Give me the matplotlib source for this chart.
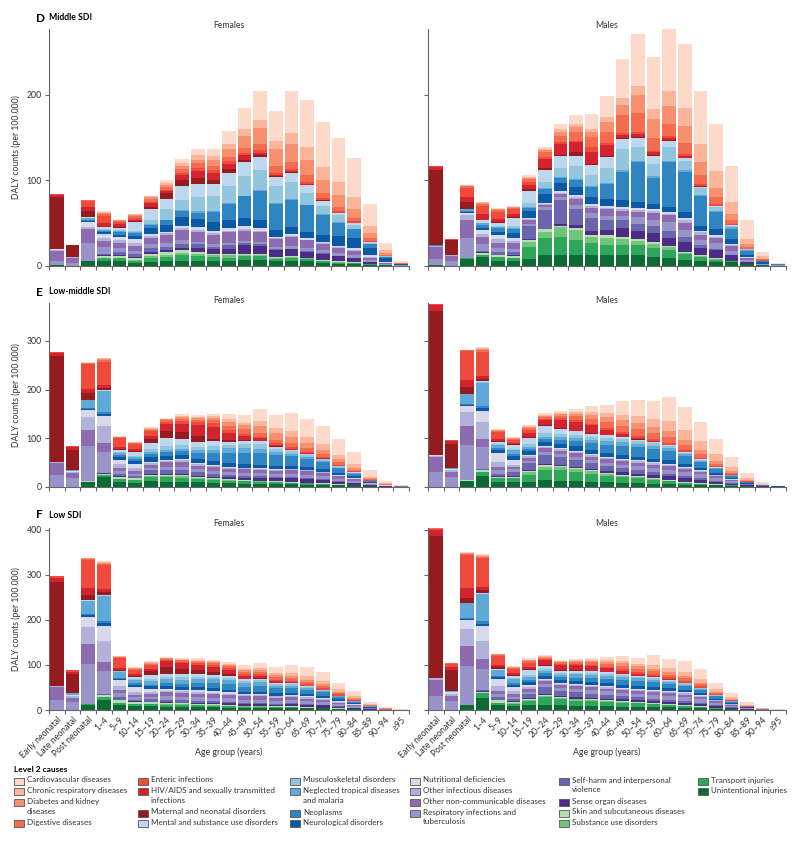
import numpy as np
import matplotlib.pyplot as plt
from matplotlib.patches import Rectangle

plt.rcParams['font.family'] = ['Lato', 'DejaVu Sans']

ages = ["Early neonatal", "Late neonatal", "Post neonatal", "1–4", "5–9", "10–14", "15–19",
        "20–24", "25–29", "30–34", "35–39", "40–44", "45–49", "50–54", "55–59", "60–64",
        "65–69", "70–74", "75–79", "80–84", "85–89", "90–94", "≥95"]

causes = ["Cardiovascular diseases", "Chronic respiratory diseases", "Diabetes and kidney\ndiseases",
          "Digestive diseases", "Enteric infections", "HIV/AIDS and sexually transmitted\ninfections",
          "Maternal and neonatal disorders", "Mental and substance use disorders",
          "Musculoskeletal disorders", "Neglected tropical diseases\nand malaria", "Neoplasms",
          "Neurological disorders", "Nutritional deficiencies", "Other infectious diseases",
          "Other non-communicable diseases", "Respiratory infections and\ntuberculosis",
          "Self-harm and interpersonal\nviolence", "Sense organ diseases",
          "Skin and subcutaneous diseases", "Substance use disorders", "Transport injuries",
          "Unintentional injuries"]

colors = ["#fdd9c9", "#fbb59b", "#f7906f", "#f36c50", "#ef4a3c", "#d3232e", "#951b1e",
          "#bdd7ee", "#92c5de", "#5fa8d8", "#2f85c2", "#0b59a6",
          "#d9d9ec", "#b1b1d9", "#8e6bb1", "#9894c9", "#6a66ae", "#4d2b89",
          "#b5e0b0", "#72c47a", "#2fa75a", "#0b6b32"]

# one row per age group, values in the order of `causes`
mid_f = [
    [0, 0, 0, 0, 1, 3, 60, 0, 0, .2, .5, .3, .5, 1, 12, 5, 0, 0, 0, 0, 0, .5],
    [0, 0, 0, 0, .5, 0, 14, 0, 0, 0, 0, 0, 0, 1, 6, 3, 0, 0, 0, 0, 0, 0],
    [0, 0, 0, 1, 7, 4, 8, .5, 0, 3, 1, 1, 6, 2, 17, 20, 0, 0, 0, 0, 0, 6],
    [1, 1, 1, 3, 8, 5, 0, 2, 1, 1, 2, 2, 4, 4, 7, 8, 2, 1, 2, 0, 3, 6],
    [.5, .5, .5, 1, 3, 3, 1, 3, 1, 1, 3, 3, 4, 3, 6, 5, 3, 1, 2, .5, 4, 5],
    [1, 1, 1, 2, 2, 2, 1, 10, 2, 1, 3, 4, 5, 3, 6, 3, 4, 1, 2, 1, 3, 3],
    [1, 1, 2, 3, 2, 4, 3, 12, 5, 1, 4, 7, 2, 2, 8, 4, 5, 2, 3, 2, 5, 4],
    [3, 2, 3, 3, 2, 2, 7, 12, 12, 1, 5, 8, 2, 2, 10, 4, 4, 2, 3, 3, 5, 5],
    [5, 3, 4, 4, 3, 6, 7, 16, 12, 1, 7, 10, 3, 2, 12, 5, 4, 3, 3, 3, 6, 6],
    [6, 6, 4, 6, 3, 8, 7, 16, 16, 2, 7, 10, 3, 2, 12, 3, 4, 5, 2, 3, 5, 6],
    [9, 4, 7, 5, 3, 9, 4, 15, 17, 1, 12, 10, 3, 2, 11, 3, 3, 5, 2, 2, 4, 6],
    [16, 5, 10, 5, 3, 6, 4, 16, 20, 1, 18, 10, 3, 2, 12, 3, 4, 6, 2, 3, 4, 5],
    [24, 8, 14, 6, 3, 5, 3, 16, 23, 1, 25, 10, 3, 2, 12, 3, 2, 10, 1, 2, 4, 7],
    [34, 10, 18, 8, 3, 3, 2, 15, 23, 1, 34, 10, 3, 2, 11, 3, 2, 9, 1, 2, 4, 7],
    [35, 10, 19, 9, 2, 1, 1, 11, 20, 1, 30, 8, 2, 1, 9, 3, 1, 8, 1, 1, 3, 5],
    [49, 13, 21, 8, 2, 1, 2, 10, 20, 1, 32, 8, 2, 1, 11, 3, 1, 8, 1, 1, 3, 6],
    [55, 15, 18, 8, 2, 1, .5, 9, 14, 1, 31, 7, 2, 1, 9, 3, 1, 7, 1, .5, 3, 5],
    [52, 16, 15, 6, 2, .5, .5, 6, 10, 1, 23, 8, 2, 1, 7, 3, 1, 7, 1, .5, 2, 3.5],
    [52, 15, 14, 5, 2, 0, 0, 3, 8, .5, 16, 11, 2, 1, 6, 3, .5, 6, 1, .3, 1.2, 2.5],
    [46, 14, 10, 4, 2, 0, 0, 2, 5, .5, 10, 12, 2, 1, 5, 3, .5, 5, .8, .2, 1, 2],
    [26, 8, 6, 3, 1, 0, 0, 1, 2, 0, 4, 9, 1.5, 1, 3, 2, 0, 2.5, .5, 0, .5, 1],
    [9, 3, 2, 1.5, .5, 0, 0, 0, .5, 0, 1.5, 5, .5, .5, 1, 1, 0, .5, 0, 0, 0, .5],
    [1.5, .5, .3, .2, 0, 0, 0, 0, 0, 0, .3, 1.5, 0, 0, .3, .2, 0, 0, 0, 0, 0, .2],
]
mid_m = [
    [0, 0, 0, 0, 1, 3, 88, 0, 0, .3, .5, .3, .5, 1, 14, 7, 0, 0, 0, 0, 0, .5],
    [0, 0, 0, .3, .5, .5, 18, 0, 0, 0, 0, 0, 0, 1, 6, 5, 0, 0, 0, 0, 0, 0],
    [.5, .5, .5, 2, 11, 5, 9, 0, 0, 2, 1, 1, 3, 6, 21, 23, 0, 0, 0, 0, 1, 8],
    [1, 1, 1, 2, 10, 6, 1, 2.5, 1, 2, 3, 3, 4, 4, 8, 8, 2, 1, 1.5, 0, 3, 10],
    [.5, .5, 1, 2, 8, 4, 1, 3, 2, 1, 4, 4, 5, 4, 6, 5, 3, 1, 1.5, .5, 4, 6],
    [.5, .5, .5, 2, 5, 4, 1, 10, 2, 1, 5, 6, 3, 3, 6, 4, 4, 1, 1.5, .5, 4, 5],
    [2, 1, 2, 3, 3, 5, 3, 14, 4, 1, 4, 8, 1, 2, 4, 3, 15, 1, 2, 6, 14, 8],
    [2, 1.5, 3, 5, 3, 10, 2, 14, 8, 1, 6, 10, 1, 1, 3, 3, 22, 1, 3, 7, 20, 12.5],
    [6, 3, 5, 7, 2, 13, 2, 14, 10, 1, 6, 10, 1.5, 1.5, 4, 3, 28, 2, 2, 11, 21.5, 12.5],
    [10, 3.5, 6, 10, 2, 12, 4, 12, 15, 1, 8, 10, 2, 2, 8, 4, 19, 3, 3, 11.5, 17.5, 12.5],
    [16.5, 4, 6, 12, 5, 14, 1.5, 12, 13, 1, 12, 8, 2, 2, 6, 6, 15.5, 4.5, 2, 8, 13.5, 12.5],
    [25, 6, 11.5, 13, 2, 13, 1, 13.5, 17.5, 1, 17.5, 8, 2, 2, 8, 4, 12.5, 6, 3, 8, 12, 12.5],
    [45, 8, 12, 21, 2, 4, 1, 12, 25, 2, 33, 8, 2.5, 2, 6, 4, 10, 10, 3, 6.5, 12, 12.5],
    [61, 10, 21, 23, 2, 3.5, .5, 11.5, 15.5, 2, 46, 8, 2, 2, 6, 8, 8.5, 9, 3, 4.5, 11.5, 12.5],
    [61, 11.5, 21.5, 15.5, 2, 3.5, .5, 10, 13.5, 2, 31, 6, 2, 2, 8, 8, 8, 10, 2.5, 5, 10, 10.5],
    [76, 17, 21.5, 13.5, 2, 3, .5, 8, 15.5, 2, 52, 6, 2, 2, 8, 10, 8, 10, 1.5, 3, 10, 8.5],
    [75, 21.5, 19.5, 13.5, 2, 2, .3, 4, 10, 2, 47, 7, 2, 4, 8, 8, 6, 11.5, 1.5, 1, 7.5, 6.5],
    [62, 21.5, 15.5, 10, 2, 1, .2, 2, 8, 1, 35, 6, 1.5, 2.5, 6, 6, 4, 8, 1.3, .7, 4.5, 6],
    [55, 19.5, 11.5, 8, 2, .5, 0, 1, 4, 1.5, 19.5, 8, 1.5, 2, 6, 6, 2, 9.5, 1, .3, 2.5, 4.7],
    [42, 13.5, 7.5, 4, 1.5, .2, 0, .5, 2, 2, 11.5, 6, 1, 1.5, 6, 4, 1, 6, .8, .2, 1, 4],
    [22, 6, 3, 2, 1, 0, 0, 0, 1, 1, 4, 3, .5, 1, 2, 2, .5, 1.5, .2, 0, .3, 2],
    [5, 3, 1, 1, .5, 0, 0, 0, .3, .5, 1, 1.5, 0, .3, .5, .7, 0, .5, 0, 0, 0, .5],
    [1, .5, .3, .2, 0, 0, 0, 0, 0, 0, .3, .4, 0, 0, .3, .3, 0, 0, 0, 0, 0, .2],
]
lm_f = [
    [0, 0, 0, 0, 2, 8, 218, 0, 0, 0, 0, 0, 0, 2, 24, 24, 0, 0, 0, 0, 0, 0],
    [0, 0, 0, 1, 2, 5, 43, 0, 0, 1, 0, 0, 2, 3, 9, 18.5, 0, 0, 0, 0, 0, 0],
    [.5, .5, 0, 2, 51, 10, 14, 0, 0, 17, 1.5, 1.5, 14, 27, 34, 72, 0, 0, .5, 0, .5, 10],
    [1.5, 1.5, 2, 4, 48, 5, 4, 2, 1, 43, 3, 4, 22.5, 34, 18.5, 43, 1, .5, 3, 0, 5, 19],
    [1, .5, 1, 2, 17, 5, 1, 5, 2, 4, 5, 5, 9, 8, 6, 6, 5, 1, 4, .5, 6, 10],
    [1.5, 1, 1.5, 2, 10, 4, 1, 8, 3, 4, 4, 6, 9, 5, 6, 4, 5, 1, 3, .5, 5.5, 8],
    [2, 1.5, 2, 3, 10, 6, 9, 12, 6, 5, 6, 9, 3.5, 3, 6, 5, 8, 2, 2, 1.5, 9, 11.5],
    [1.5, 1, 1.5, 3, 6, 14, 14, 16, 8, 5, 7, 9, 2, 3, 9, 6, 9, 2, 3, 2, 9, 10],
    [4, 2, 3, 5, 6, 17, 13.5, 12.5, 8, 5, 8, 8, 2, 4, 10, 7, 8, 2, 3, 3, 8, 10],
    [4, 2, 3, 5, 7, 22, 11.5, 10, 7, 7, 12, 8, 2, 3, 8, 6, 7, 2, 2, 2.5, 7, 9],
    [4.5, 3, 4, 6, 8, 25, 5, 9, 8, 8, 15, 8, 2, 3, 8, 6, 6, 3, 1.5, 2, 6, 8],
    [11, 6, 8, 9, 6, 14, 3.5, 7, 7, 10, 20, 8, 1.5, 2.5, 7, 6, 5, 4, 1.5, 1.5, 5, 7],
    [15, 6, 8, 10, 4, 8, 2, 6, 8, 10, 24, 7, 1.5, 2, 7, 6, 4, 5, 1.5, 1, 4.5, 6.5],
    [25, 11, 14, 8, 3, 5, 1, 6, 10, 8, 25, 6, 1.5, 2, 7, 6, 3.5, 6, 1.5, 1, 4, 6],
    [26, 11, 13, 8, 3, 3, .5, 4, 8, 6, 22, 6, 1.5, 2, 7, 6, 3, 6, 1.5, .5, 3.5, 5.5],
    [37, 12, 13, 8, 3, 2, .3, 3, 6, 4, 20, 6, 1.5, 2, 7, 7, 2.5, 7, 1.5, .5, 3, 5],
    [38, 12, 11, 7, 3, 1, 0, 2, 5, 3, 17, 6, 1.5, 2, 7, 7, 2, 7, 1.2, .3, 2.5, 4.5],
    [36, 12, 9, 6, 3, .5, 0, 1.5, 4, 2, 13, 6, 1.5, 2, 6, 6, 1.5, 7, 1, .2, 2, 4],
    [32, 9, 7, 4.5, 2.5, 0, 0, 1, 2.5, 1.5, 9, 5, 1, 1.5, 5, 5, 1, 5, .8, 0, 1.5, 3],
    [25, 7, 5, 3, 2, 0, 0, .5, 1.5, 1, 5, 4, 1, 1, 3.5, 4, .5, 3.5, .5, 0, 1, 2.5],
    [13.5, 3.5, 2, 1.5, 1, 0, 0, 0, .5, .5, 2, 2, .5, .5, 1.5, 2, 0, 1.5, .2, 0, .3, 1],
    [5, 1.5, .8, .5, .5, 0, 0, 0, 0, .2, .5, .8, .2, .2, .5, .8, 0, .5, 0, 0, 0, .3],
    [1.2, .4, .2, .2, .2, 0, 0, 0, 0, 0, .1, .2, 0, 0, .1, .3, 0, 0, 0, 0, 0, .1],
]
lm_m = [
    [0, 0, 0, 0, 2, 12, 297, 0, 0, .5, 0, 0, .5, 3, 30, 31, 0, 0, 0, 0, 0, 0],
    [0, 0, 0, .5, 2, 6, 49.5, 0, 0, 1, 0, .5, 2, 4, 10, 20.5, 0, 0, 0, 0, 0, 0],
    [.5, .5, .5, 2, 59, 15, 13.5, 0, 0, 20.5, 1.5, 2, 13.5, 29.5, 39, 72, 0, 0, .5, 0, .5, 12],
    [2, 2, 2, 4, 50, 5, 6, 1.5, 1, 48, 4.5, 5.5, 22.5, 35.5, 17, 45, 1.5, .5, 3.5, 0, 8, 22.5],
    [1, .5, 1, 2, 16, 4, 1, 5, 2, 6, 5, 6, 18, 10, 7, 7, 5, 1, 3, .5, 7, 10],
    [1, 1, 1, 2, 7, 3, 1, 8, 3, 7, 5, 8, 9.5, 4, 6, 5, 9, 1, 3, .5, 8, 9],
    [2.5, 1.5, 2, 3, 7, 8, 3, 12, 5, 4, 5, 8, 3, 3, 6, 5, 14, 1.5, 3, 6, 14, 10],
    [3.5, 2, 2.5, 4, 3, 10, 3, 14, 8, 4, 6, 8, 2, 3, 7, 6, 20, 2, 3, 7, 20.5, 13.5],
    [4, 2, 3, 5, 4, 17, 2, 9, 7, 6, 8, 9, 2, 3, 7, 6, 16, 2, 2.5, 7, 21, 12.5],
    [7, 4, 5, 8, 4, 17, 1.5, 7, 6, 7, 11, 9, 2, 3, 7, 7, 14, 2.5, 2.5, 6.5, 18, 11.5],
    [14, 6, 7, 10, 4, 16, 1, 6, 6, 8, 13, 9, 2, 3, 7, 7, 11, 3, 2, 6, 16, 10],
    [17, 8, 10, 12, 4, 10, 1, 5, 6, 9, 16, 9, 2, 3, 7, 7, 9, 4, 2, 4, 14, 9],
    [28, 11, 12, 13, 4, 6, .5, 4, 6, 8, 19, 8, 2, 3, 7, 7, 8, 5, 2, 3, 12, 8],
    [34, 14, 13, 13, 4, 3.5, .3, 3, 6, 7, 20, 7, 2, 3, 7, 8, 7, 6, 2, 2, 10, 7],
    [37, 16, 13, 13, 4, 2, .2, 2.5, 5, 6, 21, 7, 2, 3, 7, 8, 6, 7, 2, 1, 8, 6],
    [50, 19, 13, 12, 4, 1.5, 0, 2, 4, 5, 20, 7, 2, 3, 7, 9, 5, 8, 1.5, .5, 6, 5],
    [47, 20, 11, 10, 4, 1, 0, 1.5, 3, 3, 16, 6, 2, 3, 6, 9, 4, 8, 1.2, .3, 4, 4],
    [40, 18, 9, 7, 3, .5, 0, 1, 2, 2, 12, 5, 1.5, 2.5, 5, 8, 3, 7, 1, 0, 3, 3.5],
    [31, 14, 6, 4.5, 2.5, 0, 0, .5, 1, 1.5, 8, 4, 1, 2, 4, 6, 1.5, 5, .7, 0, 1.5, 3],
    [20, 9, 3.5, 2.5, 1.5, 0, 0, .3, .5, 1, 4.5, 3, .8, 1, 2.5, 4, .8, 3, .4, 0, .8, 2],
    [11, 4, 1.5, 1.2, .8, 0, 0, 0, .2, .5, 2, 1.5, .3, .5, 1, 2, 0, 1.2, 0, 0, .3, 1],
    [3.5, 1.3, .5, .4, .3, 0, 0, 0, 0, .2, .5, .5, 0, .2, .3, .7, 0, .3, 0, 0, 0, .3],
    [.8, .3, .1, .1, 0, 0, 0, 0, 0, 0, .1, .2, 0, 0, 0, .3, 0, 0, 0, 0, 0, .1],
]
low_f = [
    [0, 0, 0, 1, 3, 10, 230, 0, 0, 0, 0, 0, .5, 3, 27, 23, 0, 0, 0, 0, 0, 0],
    [0, 0, 0, 1, 3, 5, 43, 0, 0, 3.5, 0, 0, 2.5, 5, 7.5, 18.5, 0, 0, 0, 0, 0, 0],
    [1, 1, 1, 2, 62, 17, 11, .5, 0, 31, 2, 2.5, 23.5, 38.5, 43, 89, 0, 0, 1, 0, .5, 12],
    [2.5, 2.5, 2, 3, 52, 6, 8.5, 1.5, 1, 55, 4.5, 5, 35, 45, 22, 49.5, 2, 1, 3.5, 0, 7.5, 22],
    [.5, .5, 1, 2, 23, 3, 2, 2, 1.5, 12, 2.5, 3, 13, 8, 8.5, 9, 5, 1.5, 6, .5, 5, 10],
    [2, 1, 1.5, 2, 10, 3, 2, 5, 2, 8, 3, 4, 12, 6, 6, 5, 4, 1, 4, .5, 4.5, 9],
    [2.5, 2, 2, 3, 8, 6, 8, 9, 4, 8, 4, 6, 6, 5, 6, 6, 5, 1.5, 3, 1, 5, 8],
    [1.5, 1, 1.5, 2, 4, 12, 15, 8, 5, 9, 6, 7, 3, 4, 8, 8, 6, 2, 2, 1, 5, 7],
    [2, 1.5, 2, 2.5, 4, 12, 12, 7, 5, 9, 7, 7, 3, 4, 8, 8, 5, 2, 2, 1, 4.5, 7],
    [3, 2, 2, 3, 4, 12, 9, 6, 5, 9, 9, 7, 3, 4, 8, 8, 4.5, 2.5, 2, 1, 4, 6.5],
    [3.5, 2, 2.5, 3.5, 4, 12, 6, 5, 5, 9, 11, 7, 3, 4, 7, 8, 4, 3, 2, 1, 3.5, 6],
    [5, 2.5, 3, 4, 4, 10, 3, 4, 5, 9, 13, 6, 2.5, 3.5, 7, 8, 3.5, 3, 2, 1, 3, 5.5],
    [7, 3, 4, 4.5, 4, 7, 1.5, 3, 5, 8, 11, 6, 2, 3, 7, 7, 3, 3.5, 1.5, .5, 2.5, 5],
    [11, 4, 5, 5, 4, 5, 1, 2.5, 5, 8, 14, 5, 2, 3, 7, 7, 2.5, 4, 1.5, .5, 2.5, 5],
    [13, 4.5, 5, 5, 4, 3, .5, 2, 4, 6, 11, 5, 2, 3, 6, 7, 2, 4, 1.2, .3, 2, 4.5],
    [19, 6, 5, 5, 4, 2, .3, 1.5, 3.5, 5, 11, 5, 2, 3, 6, 7, 2, 5, 1.3, .2, 2, 4.5],
    [20, 7, 5, 5, 4, 1, 0, 1, 3, 4, 9, 5, 2, 3, 5.5, 7, 1.5, 5, 1, 0, 1.5, 4],
    [19, 7, 4.5, 4, 3.5, .5, 0, .8, 2, 3, 7, 4.5, 2, 2.5, 5, 6.5, 1, 5, .8, 0, 1.2, 3.5],
    [14, 5.5, 3, 3, 3, 0, 0, .5, 1.5, 2, 4.5, 3.5, 1.5, 2, 3.5, 5, .7, 3.5, .5, 0, .8, 2.5],
    [11, 4, 2, 2, 2, 0, 0, .3, .8, 1, 2.5, 2.5, 1, 1.5, 2, 3.5, .4, 2, .3, 0, .5, 2],
    [5, 1.8, .8, 1, 1, 0, 0, 0, .3, .5, 1, 1, .5, .7, .8, 1.5, 0, .8, 0, 0, .2, .8],
    [1.8, .6, .3, .3, .4, 0, 0, 0, 0, .2, .3, .4, .2, .2, .3, .6, 0, .2, 0, 0, 0, .2],
    [.5, .2, .1, .1, .1, 0, 0, 0, 0, 0, .1, .1, 0, 0, .1, .2, 0, 0, 0, 0, 0, 0],
]
low_m = [
    [0, 0, 0, 1, 4, 13, 315, 0, 0, 0, 0, 0, .7, 3, 35, 31, 0, 0, 0, 0, 0, 1],
    [0, 0, 0, 1.5, 6, 7.5, 46.5, 0, 0, 3, 0, 0, 3.5, 6, 11, 18.5, 0, 0, 0, 0, 0, .5],
    [1, 1, 1, 2, 74, 22, 11, .5, 0, 33, 2, 2, 20.5, 38.5, 43, 86.5, 0, 0, .5, 0, .5, 11],
    [2, 2, 2, 3, 64.5, 6, 7, 1.5, 1, 61, 5, 5.5, 33, 40.5, 22, 47, 2, 1, 3.5, 0, 11, 26],
    [.5, .5, 1, 2, 21, 5, 3, 2, 1, 13, 3, 4, 16, 10, 7.5, 7, 5, 1.5, 6, .5, 5, 10],
    [2, 1.5, 1.5, 2, 10, 3, 2, 6, 2, 9, 3, 5, 10, 6, 6, 5, 5, 1, 4, .5, 5, 9],
    [3, 2, 2, 3, 9, 5, 3, 10, 4, 7, 5, 7, 4, 4, 6, 6, 8.5, 1.5, 3, 2, 10, 10],
    [2, 1.5, 2, 3, 3, 11, 2, 6, 4, 6, 5, 7, 2, 3, 6, 7, 16, 2, 1.5, 3, 18, 11],
    [2, 1.5, 2, 3, 3, 11, 1, 5, 4, 6, 5, 7, 2, 3, 6, 7, 12, 2, 1.5, 3, 14, 10],
    [3, 2, 2.5, 4, 3, 11, 1, 4, 4, 7, 7, 7, 2, 3, 6, 8, 11, 2.5, 1.5, 3, 12, 9],
    [4, 3, 3, 5, 3.5, 11, .5, 3.5, 4, 7, 9, 7, 2, 3, 6, 8, 9, 3, 1.5, 3, 11, 8.5],
    [6.5, 4, 4, 6, 3.5, 9, .5, 3, 4, 7, 10, 7, 2, 3, 6, 8, 8, 3.5, 1.5, 2.5, 10, 8],
    [11, 5, 5, 7, 4, 7, .3, 2.5, 4, 7, 11, 6, 2, 3, 6, 8, 6.5, 4, 1.5, 2, 9, 7.5],
    [13, 6, 5, 7, 4, 5, 0, 2, 4, 6, 11, 6, 2, 3, 6, 8, 5.5, 4.5, 1.5, 1.5, 8, 7],
    [21, 8, 5.5, 7, 4, 3, 0, 1.5, 3.5, 5.5, 11, 6, 2, 3, 6, 8.5, 5, 5, 1.5, 1, 6.5, 6.5],
    [22, 9, 5, 6, 4, 2, 0, 1, 3, 4.5, 10, 5.5, 2, 3, 6, 9, 4, 5.5, 1.3, .5, 5, 6],
    [24, 10, 4.5, 5.5, 4, 1, 0, .8, 2.5, 3.5, 9, 5, 2, 3, 5.5, 9, 3, 6, 1.2, .3, 3.5, 5.5],
    [21, 9, 3.5, 4, 3.5, .5, 0, .5, 2, 2.5, 7, 4.5, 1.8, 2.5, 4.5, 8, 2, 5.5, 1, 0, 2.5, 4.5],
    [14, 6.5, 2.5, 2.5, 2.5, 0, 0, .3, 1.2, 1.5, 4.5, 3, 1.2, 2, 3, 6, 1.2, 4, .6, 0, 1.5, 3],
    [10, 4, 1.4, 1.5, 1.6, 0, 0, .2, .6, 1, 2.5, 2, .8, 1.3, 1.8, 4, .6, 2.2, .3, 0, .8, 2],
    [5.3, 2, .6, .7, .8, 0, 0, 0, .2, .4, 1, .8, .4, .5, .7, 1.8, 0, .8, 0, 0, .2, .8],
    [1.5, .6, .2, .2, .3, 0, 0, 0, 0, .1, .3, .3, .1, .2, .2, .6, 0, .2, 0, 0, 0, .2],
    [.5, .2, .1, .1, .1, 0, 0, 0, 0, 0, .1, .1, 0, 0, .1, .2, 0, 0, 0, 0, 0, 0],
]

W, H = 800, 842
fig = plt.figure(figsize=(W / 100, H / 100), dpi=100)
AXC = "#666666"
TXT = "#333333"


def add_ax(x0, y0, x1, y1):
    return fig.add_axes([x0 / W, 1 - y1 / H, (x1 - x0) / W, (y1 - y0) / H])


def draw(ax, table, ymax, yticks, show_ylab, show_xlab):
    data = np.array(table, dtype=float).T
    x = np.arange(len(ages)) + 0.5
    bottom = np.zeros(len(ages))
    for k in range(len(causes) - 1, -1, -1):
        ax.bar(x, data[k], bottom=bottom, width=0.87, color=colors[k], linewidth=0)
        bottom += data[k]
    ax.set_xlim(0, len(ages))
    ax.set_ylim(0, ymax)
    for s in ("top", "right"):
        ax.spines[s].set_visible(False)
    for s in ("left", "bottom"):
        ax.spines[s].set_color(AXC)
        ax.spines[s].set_linewidth(0.8)
    ax.set_yticks(yticks)
    ax.tick_params(axis="y", length=3, width=0.8, color=AXC, labelsize=6.3,
                   labelcolor=TXT, pad=2, labelleft=show_ylab)
    ax.set_xticks(np.arange(len(ages) + 1))
    ax.set_xticklabels([])
    ax.tick_params(axis="x", which="major", length=3, width=0.8, color=AXC)
    if show_xlab:
        ax.set_xticks(x, minor=True)
        ax.set_xticklabels(ages, minor=True, rotation=45, ha="right", rotation_mode="anchor",
                           fontsize=6.2, color=TXT)
        ax.tick_params(axis="x", which="minor", length=0, pad=4)
    if show_ylab:
        ax.set_ylabel("DALY counts (per 100 000)", fontsize=6.2, color=TXT, labelpad=4)


rows = [
    ("D", "Middle SDI", mid_f, mid_m, 29, 265.7, 277, [0, 100, 200], 18),
    ("E", "Low-middle SDI", lm_f, lm_m, 303, 486.7, 378, [0, 100, 200, 300], 292),
    ("F", "Low SDI", low_f, low_m, 528, 710, 404, [0, 100, 200, 300, 400], 515),
]

for r, (letter, title, tf, tm, ytop, ybot, ymax, yt, ytitle) in enumerate(rows):
    last = r == len(rows) - 1
    axf = add_ax(49, ytop, 409, ybot)
    draw(axf, tf, ymax, yt, True, last)
    axm = add_ax(428, ytop, 786, ybot)
    draw(axm, tm, ymax, yt, False, last)
    fig.text(36 / W, 1 - ytitle / H, letter, fontsize=8.5, fontweight="bold", va="center")
    fig.text(49 / W, 1 - ytitle / H, title, fontsize=6.2, fontweight="bold", va="center")
    fig.text(229 / W, 1 - (ytitle + 8) / H, "Females", fontsize=6.2, ha="center", va="center",
             color=TXT)
    fig.text(607 / W, 1 - (ytitle + 8) / H, "Males", fontsize=6.2, ha="center", va="center",
             color=TXT)
    if last:
        for cx in (229, 607):
            fig.text(cx / W, 1 - 752 / H, "Age group (years)", fontsize=6.3, ha="center",
                     va="center", color=TXT)

# legend
fig.text(14 / W, 1 - 770 / H, "Level 2 causes", fontsize=6, fontweight="bold", va="center")
col_x = [14, 138, 290, 410, 559, 698]
row_y = [781, 791.7, 802.3, 813, 823.7]
layout = [[0, 1, 2, 3], [4, 5, 6, 7], [8, 9, 10, 11], [12, 13, 14, 15], [16, 17, 18, 19], [20, 21]]
for c, idxs in enumerate(layout):
    r = 0
    for k in idxs:
        y = row_y[r]
        fig.patches.append(Rectangle((col_x[c] / W, 1 - (y + 3.5) / H), 10 / W, 7 / H,
                                     transform=fig.transFigure, facecolor=colors[k],
                                     edgecolor="#555555", linewidth=0.6))
        fig.text((col_x[c] + 13) / W, 1 - (y - 4.5) / H, causes[k], fontsize=5.8, va="top",
                 color=TXT, linespacing=1.45)
        r += causes[k].count("\n") + 1

fig.savefig("out.png", dpi=100)
